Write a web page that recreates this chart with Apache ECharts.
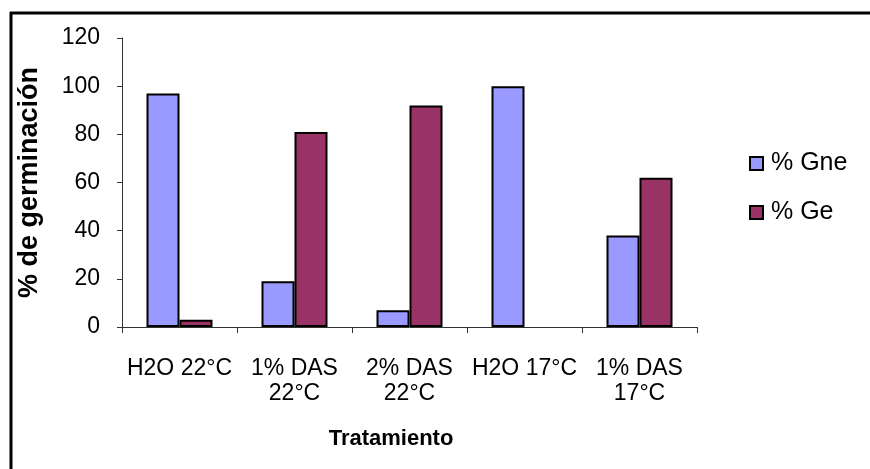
<!DOCTYPE html>
<html>
<head>
<meta charset="utf-8">
<script src="https://cdn.jsdelivr.net/npm/echarts@6/dist/echarts.min.js"></script>
<style>
  html, body { margin: 0; padding: 0; background: #fff; }
  #chart { width: 870px; height: 469px; }
</style>
</head>
<body>
<div id="chart"></div>
<script>
// Germination percentages per treatment
const categories = ['H2O 22°C', '1% DAS\n22°C', '2% DAS\n22°C', 'H2O 17°C', '1% DAS\n17°C'];
const gneValues = [97, 19, 7, 100, 38];
const geValues = [3, 81, 92, 0, 62];
const yTicks = { min: 0, max: 120, interval: 20 };

const FONT = '"Liberation Sans", Arial, sans-serif';

// zero-height bars get no outline, so nothing is drawn for them
const toBarData = values => values.map(v => (v === 0 ? { value: v, itemStyle: { borderWidth: 0 } } : v));

const chart = echarts.init(document.getElementById('chart'), null, { renderer: 'canvas' });

chart.setOption({
  animation: false,
  backgroundColor: '#ffffff',
  textStyle: { fontFamily: FONT, color: '#000' },
  grid: { left: 122, top: 38, right: 173, bottom: 142 },
  legend: {
    orient: 'vertical',
    left: 749,
    top: 151,
    padding: 0,
    itemWidth: 13,
    itemHeight: 13,
    itemGap: 24,
    icon: 'rect',
    textStyle: { fontFamily: FONT, fontSize: 25, color: '#000', padding: [0, 0, 0, 3] },
    data: ['% Gne', '% Ge']
  },
  xAxis: {
    type: 'category',
    data: categories,
    name: 'Tratamiento',
    nameLocation: 'middle',
    nameGap: 101,
    nameTextStyle: { fontFamily: FONT, fontSize: 22, fontWeight: 'bold', color: '#000', padding: [0, 37, 0, 0] },
    axisLine: { lineStyle: { color: '#333', width: 1 } },
    axisTick: { show: true, length: 6, lineStyle: { color: '#333' } },
    axisLabel: { fontFamily: FONT, fontSize: 23, color: '#000', margin: 29, lineHeight: 25, interval: 0 }
  },
  yAxis: {
    type: 'value',
    min: yTicks.min,
    max: yTicks.max,
    interval: yTicks.interval,
    name: '% de germinación',
    nameLocation: 'middle',
    nameGap: 79,
    nameTextStyle: { fontFamily: FONT, fontSize: 27, fontWeight: 'bold', color: '#000' },
    axisLine: { show: true, lineStyle: { color: '#333', width: 1 } },
    axisTick: { show: true, length: 5, lineStyle: { color: '#333' } },
    axisLabel: { fontFamily: FONT, fontSize: 23, color: '#000', margin: 22 },
    splitLine: { show: false }
  },
  series: [
    {
      name: '% Gne',
      type: 'bar',
      data: toBarData(gneValues),
      barWidth: 33,
      barGap: '0%',
      itemStyle: { color: '#9999FF', borderColor: '#000', borderWidth: 2 }
    },
    {
      name: '% Ge',
      type: 'bar',
      data: toBarData(geValues),
      barWidth: 33,
      barGap: '0%',
      itemStyle: { color: '#993366', borderColor: '#000', borderWidth: 2 }
    }
  ],
  graphic: [
    { type: 'line', shape: { x1: 10, y1: 13, x2: 870, y2: 13 }, style: { stroke: '#000', lineWidth: 3 } },
    { type: 'line', shape: { x1: 11, y1: 12, x2: 11, y2: 469 }, style: { stroke: '#000', lineWidth: 3 } }
  ]
});
</script>
</body>
</html>
